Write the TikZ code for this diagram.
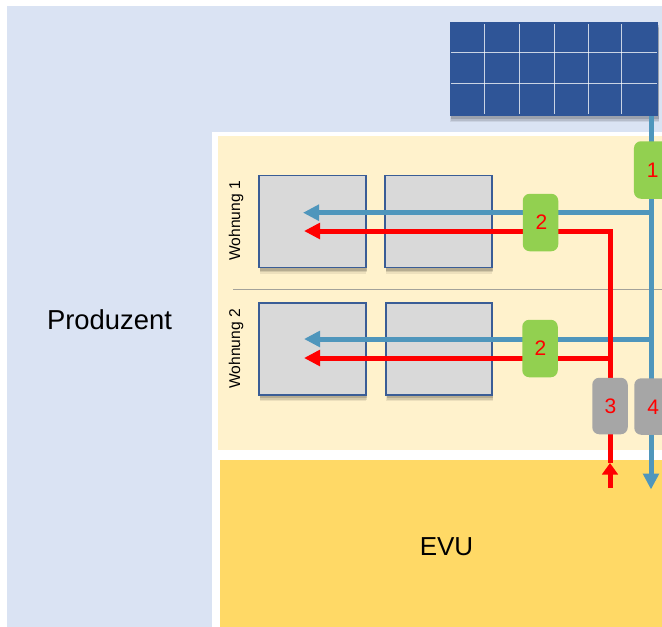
\documentclass[tikz,border=0pt]{standalone}
\usepackage{fontspec}
\setmainfont{Liberation Sans}
\usetikzlibrary{arrows.meta}
\definecolor{bgblue}{HTML}{DAE3F3}
\definecolor{cream}{HTML}{FFF2CC}
\definecolor{evu}{HTML}{FFD966}
\definecolor{panel}{HTML}{2F5597}
\definecolor{roomfill}{HTML}{D9D9D9}
\definecolor{roomline}{HTML}{3A5D96}
\definecolor{ctrlgreen}{HTML}{92D050}
\definecolor{ctrlgray}{HTML}{A6A6A6}
\definecolor{pvblue}{HTML}{4F96BC}
\definecolor{grid}{HTML}{A3A29A}
\pgfdeclarelayer{rooms}
\pgfdeclarelayer{wires}
\pgfsetlayers{rooms,wires,main}
\tikzset{
  softshadow/.style={
    preaction={fill=black,opacity=.07,transform canvas={xshift=.5pt,yshift=-6pt}},
    preaction={fill=black,opacity=.10,transform canvas={xshift=.8pt,yshift=-4.5pt}},
    preaction={fill=black,opacity=.14,transform canvas={xshift=.8pt,yshift=-3pt}}},
  room/.style={draw=roomline,line width=1.9pt,fill=roomfill,softshadow,inner sep=0pt,
    minimum width=106.5pt,minimum height=92pt},
  ctrl/.style={rounded corners=7pt,inner sep=0pt,minimum width=35.5pt,text=red,font=\fontsize{21}{21}\selectfont},
  ctrlg/.style={ctrl,fill=ctrlgreen,minimum height=57.5pt},
  ctrly/.style={ctrl,fill=ctrlgray,minimum height=56.5pt},
  pvwire/.style={draw=pvblue,line width=5pt},
  redwire/.style={draw=red,line width=5pt},
  tip/.style={-{Triangle[length=16pt,width=15.5pt]}},
  shorttip/.style={-{Triangle[length=11.5pt,width=15.5pt]}},
  cellline/.style={draw=white,opacity=.75,line width=1pt},
  wlabel/.style={rotate=90,font=\fontsize{15.6}{15.6}\selectfont,inner sep=0pt},
  biglabel/.style={inner sep=0pt,font=\fontsize{27.4}{27.4}\selectfont},
}
\begin{document}
\begin{tikzpicture}[x=1pt,y=-1pt]
\useasboundingbox (0,0) rectangle (662,627);
\clip (0,0) rectangle (662,627);
\begin{pgfonlayer}{rooms}
\fill[bgblue] (7,6) rectangle (662,627);
\fill[white] (212,132) rectangle (662,627);
\fill[cream] (218,136) rectangle (662,450);
\fill[evu] (220,460) rectangle (662,627);
\draw[grid,line width=.7pt] (233,289.5) -- (662,289.5);
\node[room] (r1a) at (312.5,221.5) {};
\node[room] (r1b) at (438.5,221.5) {};
\node[room] (r2a) at (312.5,349) {};
\node[room] (r2b) at (439,349) {};
\node[draw=none,fill=panel,softshadow,inner sep=0pt,minimum width=208.5pt,minimum height=94pt] (pv) at (554.2,69) {};
\foreach \x in {484,519,554,588,621} \draw[cellline] (\x,24) -- (\x,114);
\foreach \y in {52,83} \draw[cellline] (451,\y) -- (657,\y);
\end{pgfonlayer}

\node[biglabel] (prod) at (109.5,320) {Produzent};
\node[biglabel,font=\fontsize{26}{26}\selectfont] (evul) at (446.5,547) {EVU};
\node[wlabel] (w1) at (236,221) {Wohnung 1};
\node[wlabel] (w2) at (236,349) {Wohnung 2};

\node[ctrlg] (c1) at (651.7,170) {};
\node[ctrlg] (c2a) at (540.5,222.5) {};
\node[ctrlg] (c2b) at (540,348.5) {};
\node[ctrly] (c3) at (610,406) {};
\node[ctrly] (c4) at (652,406.5) {};
\node[ctrl,minimum width=0pt] at ([xshift=1pt]c1.center) {1};
\node[ctrl,minimum width=0pt] at ([xshift=1pt]c2a.center) {2};
\node[ctrl,minimum width=0pt] at ([xshift=.5pt]c2b.center) {2};
\node[ctrl,minimum width=0pt] at ([xshift=.5pt]c3.center) {3};
\node[ctrl,minimum width=0pt] at ([xshift=1.3pt,yshift=-1pt]c4.center) {4};

\coordinate (pvout) at (651,116);
\coordinate (pvend) at (651,489.5);
\coordinate (jb1) at (651,212.7);
\coordinate (jb2) at (651,339);
\coordinate (tb1) at (303,212.7);
\coordinate (tb2) at (304,339);
\coordinate (jr1) at (610,231);
\coordinate (jr2) at (610,358);
\coordinate (tr1) at (304,231);
\coordinate (tr2) at (304,358);
\coordinate (gridin) at (610,488);
\coordinate (gridtip) at (610,463);

\begin{pgfonlayer}{wires}
\draw[pvwire,tip] (pvout) -- (pvend);
\draw[pvwire,tip] (jb1) -- (tb1);
\draw[pvwire,tip] (jb2) -- (tb2);
\draw[redwire,tip] (jr1) -- (tr1);
\draw[redwire,tip] (jr2) -- (tr2);
\draw[redwire,line cap=rect] (jr2) -- (jr1);
\draw[redwire] (jr2) -- (c3.north -| jr2);
\draw[redwire,shorttip] (gridin) -- (gridtip);
\draw[redwire] (gridtip) -- (c3.south -| gridtip);
\end{pgfonlayer}
\end{tikzpicture}
\end{document}
